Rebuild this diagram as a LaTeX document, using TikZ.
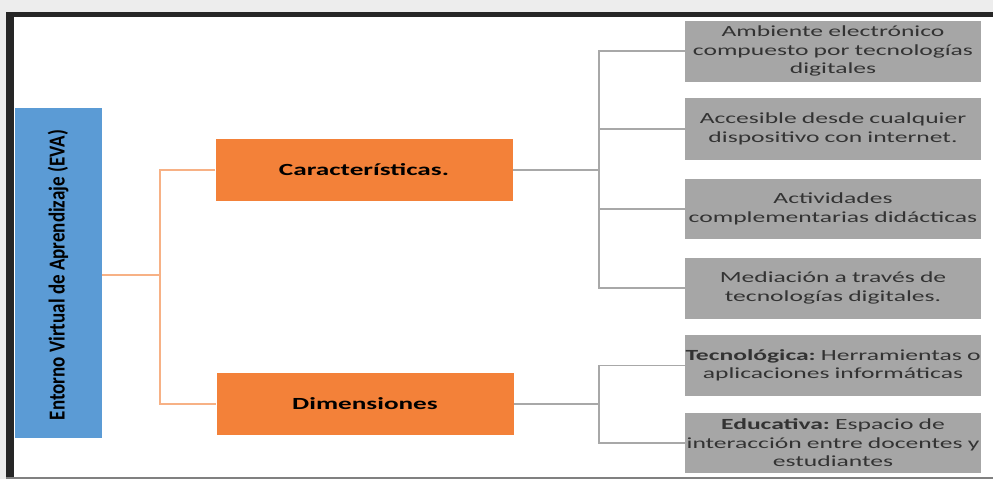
\documentclass[tikz,border=0pt]{standalone}
\usepackage{graphicx}
\usepackage{fontspec}
\setmainfont{Carlito}
\newfontfamily\boxfont[FakeStretch=1.65]{Carlito}
\newfontfamily\catfont[FakeStretch=1.6]{Carlito}
\definecolor{bgc}{HTML}{EDEDED}
\definecolor{framec}{HTML}{262626}
\definecolor{evablue}{HTML}{5B9BD5}
\definecolor{orangec}{HTML}{F38139}
\definecolor{orangeline}{HTML}{F7B185}
\definecolor{greyc}{HTML}{A6A6A6}
\definecolor{greyline}{HTML}{A8A8A8}
\definecolor{greytext}{HTML}{333333}
\tikzset{
  evabox/.style={fill=evablue, minimum width=87pt, minimum height=330pt, inner sep=0pt},
  catbox/.style={fill=orangec, minimum width=297pt, minimum height=62pt, inner sep=0pt,
     font=\catfont\fontsize{17}{20}\selectfont\bfseries, text=black},
  itembox/.style={fill=greyc, minimum width=296pt, inner sep=0pt, text width=296pt, align=center,
     font=\boxfont\fontsize{15.5}{18.5}\selectfont, text=greytext},
  oline/.style={draw=orangeline, line width=1.6pt},
  gline/.style={draw=greyline, line width=1.4pt},
}
\begin{document}
\begin{tikzpicture}[x=1pt,y=-1pt]
\useasboundingbox (0,0) rectangle (993,479);
\fill[bgc] (0,0) rectangle (993,479);
\fill[white] (6,12) rectangle (993,477);
\fill[framec] (6,12) rectangle (993,17);
\fill[framec] (6,12) rectangle (14,479);
\fill[gray] (6,477) rectangle (993,479);

\node[evabox] (eva) at (58.5,273) {};
\node[rotate=90, inner sep=0pt] (evatext) at (58,275)
  {\scalebox{1}[1.2]{\fontsize{19}{22}\selectfont\bfseries Entorno Virtual de Aprendizaje (EVA)}};

\node[catbox] (car) at (364,170) {Características.};
\node[catbox] (dim) at (365,404) {Dimensiones};

\node[itembox, minimum height=61pt] (b1) at (833,51) {Ambiente electrónico\\compuesto por tecnologías\\digitales};
\node[itembox, minimum height=62pt] (b2) at (833,129) {Accesible desde cualquier\\dispositivo con internet.};
\node[itembox, minimum height=60pt] (b3) at (833,209) {Actividades\\complementarias didácticas};
\node[itembox, minimum height=61pt] (b4) at (833,288) {Mediación a través de\\tecnologías digitales.};
\node[itembox, minimum height=61pt] (b5) at (833,365.5) {\textbf{Tecnológica:}~Herramientas o\\aplicaciones informáticas};
\node[itembox, minimum height=60pt] (b6) at (833,443) {\textbf{Educativa:}~Espacio de\\interacción entre docentes y\\estudiantes};

\coordinate (oj) at (160,275);
\draw[oline] (oj -| eva.east) -- (oj);
\draw[oline] (car.west) -| (oj) |- (dim.west);

\coordinate (gj1) at (599,170);
\draw[gline] (car.east) -- (gj1);
\draw[gline] (b1.west) -| (gj1);
\draw[gline] (b2.west) -| (gj1);
\draw[gline] (b3.west) -| (gj1);
\draw[gline] (b4.west) -| (gj1);

\coordinate (gj2) at (599,404);
\draw[gline] (dim.east) -- (gj2);
\draw[gline] (b5.west) -| (gj2);
\draw[gline] (b6.west) -| (gj2);
\end{tikzpicture}
\end{document}
